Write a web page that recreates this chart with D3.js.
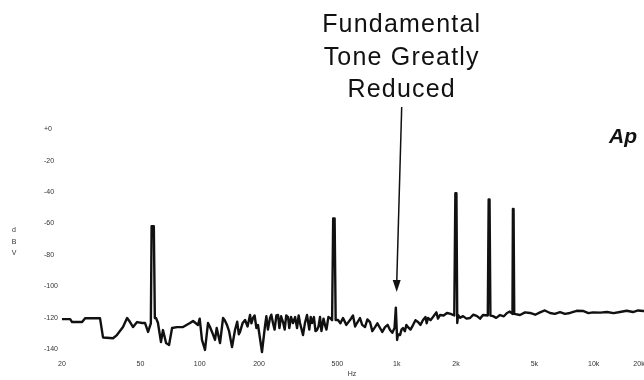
<!DOCTYPE html>
<html lang="en">
<head>
  <meta charset="UTF-8">
  <title>Spectrum</title>
  <script src="https://d3js.org/d3.v7.min.js"></script>
  <style>
    body { margin: 0; background: #fff; }
    svg { display: block; filter: grayscale(100%); }
    text { font-family: "Liberation Sans", Arial, sans-serif; }
  </style>
</head>
<body>
  <svg width="644" height="380"></svg>

  <script>
    // spectrum trace: frequency (Hz) and level (dBV)
    const freqs = [
      20, 22, 22.5, 25.3, 26.2, 31.2, 32.3, 36.3, 38, 40.8, 42.8, 44.3, 45.9, 48.1, 51, 52.8, 54.7, 56.5,
      57, 58.5, 59.2, 60, 61.4, 63.6, 65.1, 67.5, 69.9, 72.4, 76.7, 82.3, 89.3, 92.5, 98, 100, 102.7, 106.4,
      110.2, 112.5, 115.5, 119.6, 122, 126.8, 131.4, 134, 137.6, 141, 145.9, 151.1, 155, 158, 160.2, 165,
      169.9, 175, 180.1, 183, 186.5, 190, 194, 197.7, 207.1, 214.5, 218, 222, 227.4, 231, 235.6, 240, 245,
      249.8, 254, 259, 264.8, 270, 275, 280.8, 285, 291, 297.7, 305, 312, 318, 323, 334.5, 342, 350.5, 360,
      366, 371.6, 380, 387, 394, 401, 408.1, 415, 425, 432.6, 440, 450, 458.7,
      470, 476, 484, 490, 503.6, 518, 533.9, 555, 579.6, 600, 615, 628.8, 651.1, 668, 690.4, 710, 732, 752,
      776.2, 798, 822.8, 845, 872.6, 900, 925, 950, 975,
      990, 1005, 1015, 1039.7, 1058, 1076.8, 1100, 1120, 1141.3, 1175, 1210.1, 1245, 1283.1, 1320, 1360.4,
      1400, 1420, 1442.3, 1485, 1528.4, 1590, 1620, 1658.8, 1730, 1800.4, 1880,
      1960, 1985, 2010, 2030, 2047.8, 2100, 2170.8, 2260, 2356.6, 2450, 2557.8, 2650, 2741.5,
      2900, 2930, 2960, 2990, 3082.5, 3200, 3346.1, 3500, 3630.4, 3750,
      3870, 3890, 3920, 3950, 4227, 4480, 4750, 5050, 5339, 5650, 6002, 6350, 6745, 7150, 7582, 8200, 8824,
      9400, 9918, 10800, 11684, 12600, 13601, 14700, 15835, 16800, 17799, 20000
    ];
    const levels = [
      -121.3, -121.3, -123.2, -123.2, -120.8, -120.8, -133, -133.5, -131.5, -126.4, -120.6, -123.2, -126.4, -123.2, -123.8, -123.8, -129.5, -124,
      -62, -62, -120.6, -120.6, -123.8, -135.9, -128.3, -136.6, -137.8, -127, -126.4, -126.4, -123.8, -122.5, -125.1, -121, -134.6, -141,
      -123.8, -126, -129.5, -134.6, -127, -136.6, -120.6, -122, -125.1, -129, -139.1, -128.3, -123, -131, -129.5, -124,
      -121.9, -126, -118.7, -124, -120.6, -119, -127, -125.1, -142.3, -125.8, -119.5, -128, -120.6, -118.5, -124, -128, -119,
      -118.7, -127, -119.5, -123.2, -128, -119, -120, -127, -120, -123.8, -120, -127, -119, -123.8, -131.5, -124, -118.7, -128,
      -120, -123.8, -120, -129, -128.3, -126, -120, -129, -121, -125.1, -128, -120, -120.6,
      -122, -57, -57, -121.9, -121.9, -124, -120.6, -125, -121.9, -119, -126, -123.8, -120.6, -125, -126.4, -121.5, -123.2, -129,
      -126.4, -124, -127, -129.5, -126.4, -125, -128.3, -130, -127,
      -114, -134.6, -131, -131.5, -128, -127, -129, -125, -126.4, -128, -125.1, -122, -123.2, -125, -121.9,
      -120, -124, -120.6, -122, -120, -117, -121, -118.7, -119, -117.4, -118,
      -119, -41, -41, -123.8, -118.7, -120.5, -119.4, -121, -120.6, -118.5, -119.4, -121, -118.7,
      -119, -45, -45, -119, -119.4, -120.5, -118.7, -119.5, -117.4, -116.5,
      -118, -51, -51, -118, -118.7, -117, -117.4, -118.5, -117, -115.8, -117.4, -118, -116.8, -118, -117.4, -116, -116.1,
      -117.5, -117, -117.2, -116.8, -117.5, -116.8, -116, -116.8, -115.8, -116.1, -116
    ];

    const xTicks = [20, 50, 100, 200, 500, 1000, 2000, 5000, 10000, 20000];
    const xTickLabels = ['20', '50', '100', '200', '500', '1k', '2k', '5k', '10k', '20k'];
    const yTicks = [0, -20, -40, -60, -80, -100, -120, -140];
    const yTickLabels = ['+0', '-20', '-40', '-60', '-80', '-100', '-120', '-140'];
    const noteLines = ['Fundamental', 'Tone Greatly', 'Reduced'];

    const svg = d3.select('svg');

    const xScale = d3.scaleLog()
      .domain([20, 20000])
      .range([62, 653]);

    const yScale = d3.scaleLinear()
      .domain([-140, 0])
      .range([348.4, 129]);

    const data = freqs.map((f, i) => ({f: f, db: levels[i]}));

    const line = d3.line()
      .x(d => xScale(d.f))
      .y(d => yScale(d.db));

    svg.append('path')
      .attr('d', line(data))
      .attr('fill', 'none')
      .attr('stroke', '#111')
      .attr('stroke-width', 2.4)
      .attr('stroke-linejoin', 'round');

    // y tick labels, left aligned like the scan
    svg.append('g')
      .selectAll('text')
      .data(yTicks)
      .join('text')
      .attr('x', 44)
      .attr('y', d => yScale(d))
      .attr('dy', '0.35em')
      .attr('font-size', 7)
      .attr('fill', '#333')
      .text((d, i) => yTickLabels[i]);

    svg.append('g')
      .selectAll('text')
      .data(['d', 'B', 'V'])
      .join('text')
      .attr('x', 14)
      .attr('y', (d, i) => 232 + i * 11.5)
      .attr('text-anchor', 'middle')
      .attr('font-size', 7)
      .attr('fill', '#333')
      .text(d => d);

    // x tick labels
    svg.append('g')
      .selectAll('text')
      .data(xTicks)
      .join('text')
      .attr('x', (d, i) => xScale(d) - (i === xTicks.length - 1 ? 14 : 0))
      .attr('y', 366)
      .attr('text-anchor', 'middle')
      .attr('font-size', 7)
      .attr('fill', '#333')
      .text((d, i) => xTickLabels[i]);

    svg.append('text')
      .attr('x', 352)
      .attr('y', 376)
      .attr('text-anchor', 'middle')
      .attr('font-size', 7)
      .attr('fill', '#333')
      .text('Hz');

    // annotation over the 1k fundamental
    const ax = xScale(1000);
    svg.append('g')
      .selectAll('text')
      .data(noteLines)
      .join('text')
      .attr('x', ax + 5)
      .attr('y', (d, i) => 32 + i * 32.5)
      .attr('text-anchor', 'middle')
      .attr('font-size', 25)
      .attr('letter-spacing', 1.2)
      .attr('fill', '#111')
      .text(d => d);

    const tipY = yScale(-104);
    svg.append('line')
      .attr('x1', ax + 5)
      .attr('y1', 107)
      .attr('x2', ax)
      .attr('y2', tipY - 8)
      .attr('stroke', '#111')
      .attr('stroke-width', 1.5);

    svg.append('path')
      .attr('d', `M${ax - 4},${tipY - 12}L${ax + 4},${tipY - 12}L${ax},${tipY}Z`)
      .attr('fill', '#111');

    svg.append('text')
      .attr('x', 609)
      .attr('y', 143)
      .attr('font-size', 21)
      .attr('font-weight', 'bold')
      .attr('font-style', 'italic')
      .attr('fill', '#111')
      .text('Ap');
  </script>
</body>
</html>
